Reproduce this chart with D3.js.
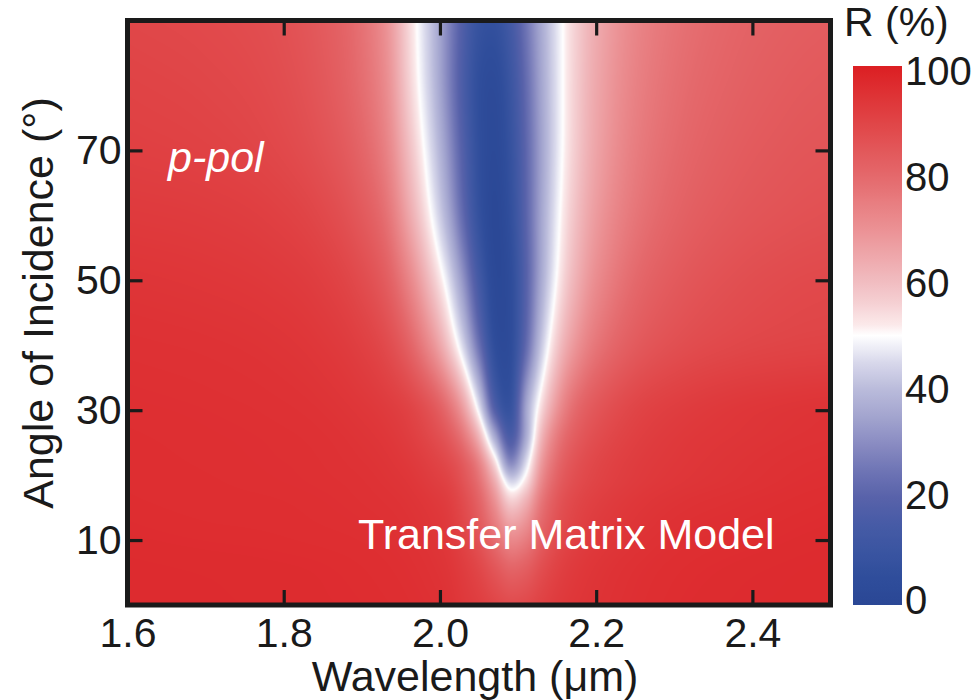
<!DOCTYPE html>
<html>
<head>
<meta charset="utf-8">
<script src="https://cdn.jsdelivr.net/npm/d3@7"></script>
<style>
  html, body { margin: 0; padding: 0; background: #ffffff; }
  svg { display: block; font-family: "Liberation Sans", Arial, Helvetica, sans-serif; }
</style>
</head>
<body>
<svg id="chart" width="974" height="700"></svg>
<script>
// Wavelength sample points (μm)
const wavelengths = [1.60, 1.70, 1.78, 1.84, 1.89, 1.93, 1.96, 1.99, 2.01, 2.03, 2.05, 2.07,
                     2.09, 2.11, 2.13, 2.15, 2.17, 2.20, 2.25, 2.31, 2.38, 2.45, 2.50];

// Angle of incidence of each row (degrees)
const angles = [0, 6, 12, 16, 19, 22, 26, 31, 40, 50, 60, 70, 80, 90];

// Reflectance R (%), p-polarised, transfer-matrix model: one row per angle
const reflectance = [
  [96.5, 96.5, 96.4, 96.3, 96.2, 96.0, 95.7, 95.2, 94.6, 93.0, 91.6, 89.6, 88.1, 88.7, 90.6, 92.4, 93.5, 94.5, 95.5, 96.2, 96.5, 96.6, 96.7],
  [96.5, 96.4, 96.3, 96.2, 96.0, 95.7, 95.3, 94.6, 93.7, 91.6, 88.6, 84.2, 80.2, 81.8, 86.6, 90.1, 92.2, 93.8, 95.1, 95.9, 96.3, 96.5, 96.6],
  [96.2, 96.0, 95.9, 95.7, 95.5, 95.2, 94.7, 93.8, 92.5, 89.0, 83.9, 75.8, 67.4, 70.9, 80.3, 86.4, 89.7, 92.2, 94.0, 95.2, 95.7, 96.1, 96.3],
  [96.0, 95.8, 95.7, 95.5, 95.2, 94.8, 94.2, 93.0, 91.5, 87.5, 81.1, 69.9, 56.6, 62.3, 76.2, 84.3, 88.3, 91.0, 93.2, 94.5, 95.2, 95.7, 96.0],
  [95.9, 95.7, 95.5, 95.3, 95.0, 94.4, 93.6, 91.8, 90.0, 85.5, 77.8, 63.5, 44.9, 53.2, 71.8, 81.8, 86.6, 89.8, 92.3, 93.7, 94.6, 95.3, 95.6],
  [95.8, 95.6, 95.4, 95.2, 94.7, 94.0, 92.8, 90.5, 88.0, 83.0, 73.1, 53.8, 29.2, 45.0, 67.5, 79.2, 85.0, 88.9, 91.8, 93.3, 94.3, 95.0, 95.3],
  [95.7, 95.5, 95.3, 95.0, 94.3, 93.3, 91.5, 88.0, 84.0, 76.0, 61.3, 36.1, 16.0, 36.0, 61.2, 75.0, 82.0, 87.0, 90.8, 92.8, 93.8, 94.5, 94.8],
  [95.5, 95.3, 95.0, 94.5, 93.5, 92.0, 89.5, 84.0, 77.0, 65.0, 44.9, 16.5,  8.1, 34.0, 53.5, 68.0, 77.5, 84.0, 89.0, 91.5, 93.0, 93.8, 94.2],
  [95.0, 94.7, 94.2, 93.3, 91.5, 88.0, 81.5, 70.0, 59.0, 44.2, 24.1,  5.5,  4.4, 21.9, 42.3, 57.5, 67.5, 76.4, 83.4, 87.0, 88.8, 89.7, 90.0],
  [94.0, 93.5, 92.8, 91.5, 88.5, 83.0, 73.0, 58.3, 46.8, 31.4, 13.9,  2.0,  4.4, 19.0, 36.4, 50.6, 60.9, 70.9, 79.5, 84.1, 86.6, 87.9, 88.4],
  [92.5, 92.0, 91.0, 89.0, 85.0, 78.0, 65.0, 49.3, 36.8, 21.7,  7.6,  1.0,  6.4, 20.1, 35.3, 48.0, 57.7, 67.5, 76.4, 81.6, 84.4, 85.8, 86.4],
  [91.0, 90.3, 89.0, 86.5, 82.0, 74.0, 60.0, 44.4, 32.1, 18.1,  6.2,  2.1,  8.1, 20.8, 34.6, 46.5, 55.7, 65.4, 74.6, 79.9, 82.9, 84.5, 85.1],
  [90.0, 89.2, 87.8, 85.0, 80.0, 71.5, 56.5, 41.3, 29.0, 15.9,  5.7,  3.3, 10.1, 22.3, 35.3, 46.4, 55.2, 64.5, 73.4, 78.7, 81.7, 83.4, 84.1],
  [89.0, 88.2, 86.8, 84.0, 79.0, 70.0, 55.0, 40.4, 29.0, 17.3,  8.9,  7.4, 13.8, 24.8, 36.5, 46.7, 54.9, 63.7, 72.4, 77.6, 80.7, 82.3, 83.0]
];

const xTicks = [1.6, 1.8, 2.0, 2.2, 2.4];
const yTicks = [10, 30, 50, 70];
const colorbarTicks = [0, 20, 40, 60, 80, 100];

// Diverging blue-white-red colour map for R (%)
const colorStops = [
  [0, "#2a4795"], [5, "#2f4d9b"], [10, "#3a55a1"], [15, "#475ba6"], [20, "#5862aa"],
  [25, "#6f75b5"], [30, "#8a8cc2"], [35, "#a3a5cf"], [40, "#babbdb"], [45, "#d8d8eb"],
  [50, "#ffffff"], [52, "#fbe9ea"], [56, "#f5d0d3"], [60, "#f1bcc0"], [70, "#eb9093"],
  [80, "#e4676a"], [90, "#e04345"], [95, "#de3134"], [100, "#dc1e22"]
];

const svg = d3.select("#chart");
const ink = "#1a1a1a";
const tickFont = 41;
const titleFont = 43;

const plot = { left: 127.5, right: 830.5, top: 20.5, bottom: 605 };
const x = d3.scaleLinear().domain([1.6, 2.5]).range([plot.left, plot.right]);
const y = d3.scaleLinear().domain([0, 90]).range([plot.bottom, plot.top]);
const color = d3.scaleLinear()
  .domain(colorStops.map(d => d[0]))
  .range(colorStops.map(d => d[1]))
  .interpolate(d3.interpolateRgb)
  .clamp(true);

// Cubic Hermite interpolation with centred slopes on a non-uniform grid
function hermite(xs, ys, xv) {
  const n = xs.length;
  if (xv <= xs[0]) return ys[0];
  if (xv >= xs[n - 1]) return ys[n - 1];
  let i = d3.bisectRight(xs, xv) - 1;
  if (i > n - 2) i = n - 2;
  const slope = k => k === 0 ? (ys[1] - ys[0]) / (xs[1] - xs[0])
    : k === n - 1 ? (ys[n - 1] - ys[n - 2]) / (xs[n - 1] - xs[n - 2])
    : (ys[k + 1] - ys[k - 1]) / (xs[k + 1] - xs[k - 1]);
  const h = xs[i + 1] - xs[i], t = (xv - xs[i]) / h;
  const t2 = t * t, t3 = t2 * t;
  return (2 * t3 - 3 * t2 + 1) * ys[i] + (t3 - 2 * t2 + t) * slope(i) * h
       + (-2 * t3 + 3 * t2) * ys[i + 1] + (t3 - t2) * slope(i + 1) * h;
}

// Rasterise the reflectance map into the plot area
const pw = Math.round(plot.right - plot.left);
const ph = Math.round(plot.bottom - plot.top);
const canvas = document.createElement("canvas");
canvas.width = pw; canvas.height = ph;
const ctx = canvas.getContext("2d");
const img = ctx.createImageData(pw, ph);

const lut = d3.range(1001).map(i => d3.rgb(color(i / 10)));
const colLambda = d3.range(pw).map(px => x.invert(plot.left + (px + 0.5) * (plot.right - plot.left) / pw));
const rowsAtPx = reflectance.map(row => colLambda.map(l => hermite(wavelengths, row, l)));

for (let px = 0; px < pw; px++) {
  const column = rowsAtPx.map(r => r[px]);
  for (let py = 0; py < ph; py++) {
    const theta = y.invert(plot.top + (py + 0.5) * (plot.bottom - plot.top) / ph);
    let v = hermite(angles, column, theta);
    v = Math.max(0, Math.min(100, v));
    const c = lut[Math.round(v * 10)];
    const k = (py * pw + px) * 4;
    img.data[k] = c.r; img.data[k + 1] = c.g; img.data[k + 2] = c.b; img.data[k + 3] = 255;
  }
}
ctx.putImageData(img, 0, 0);

svg.append("image")
  .attr("x", plot.left).attr("y", plot.top)
  .attr("width", plot.right - plot.left).attr("height", plot.bottom - plot.top)
  .attr("preserveAspectRatio", "none")
  .attr("href", canvas.toDataURL());

// In-plot annotations
svg.append("text")
  .attr("x", 168).attr("y", 172)
  .attr("fill", "#ffffff").attr("font-size", titleFont).attr("font-style", "italic")
  .text("p-pol");
svg.append("text")
  .attr("x", 358).attr("y", 549)
  .attr("fill", "#ffffff").attr("font-size", titleFont)
  .text("Transfer Matrix Model");

// Axes with inward ticks on all four sides
const tickLen = 15;
function styleAxis(g) {
  g.select(".domain").remove();
  g.selectAll(".tick line").attr("stroke", ink).attr("stroke-width", 3.2);
  g.selectAll(".tick text").attr("fill", ink).attr("font-size", tickFont)
    .attr("font-family", "\"Liberation Sans\", Arial, sans-serif");
}
svg.append("g").attr("transform", `translate(0,${plot.bottom})`)
  .call(d3.axisBottom(x).tickValues(xTicks).tickFormat(d3.format(".1f")).tickSize(-tickLen).tickPadding(13))
  .call(styleAxis);
svg.append("g").attr("transform", `translate(0,${plot.top})`)
  .call(d3.axisTop(x).tickValues(xTicks.slice(1)).tickFormat("").tickSize(-tickLen))
  .call(styleAxis);
svg.append("g").attr("transform", `translate(${plot.left},0)`)
  .call(d3.axisLeft(y).tickValues(yTicks).tickSize(-tickLen).tickPadding(6))
  .call(styleAxis);
svg.append("g").attr("transform", `translate(${plot.right},0)`)
  .call(d3.axisRight(y).tickValues(yTicks).tickFormat("").tickSize(-tickLen))
  .call(styleAxis);

// Frame
svg.append("rect")
  .attr("x", plot.left).attr("y", plot.top)
  .attr("width", plot.right - plot.left).attr("height", plot.bottom - plot.top)
  .attr("fill", "none").attr("stroke", ink).attr("stroke-width", 5);

// Axis titles
svg.append("text")
  .attr("x", 475).attr("y", 691).attr("text-anchor", "middle")
  .attr("fill", ink).attr("font-size", titleFont)
  .text("Wavelength (μm)");
svg.append("text")
  .attr("transform", "translate(53,303) rotate(-90)").attr("text-anchor", "middle")
  .attr("fill", ink).attr("font-size", titleFont)
  .text("Angle of Incidence (°)");

// Colour bar
const cb = { x: 853, width: 49, top: 66, bottom: 605 };
const cbScale = d3.scaleLinear().domain([0, 100]).range([cb.bottom, cb.top]);
const cbLabelScale = d3.scaleLinear().domain([0, 100]).range([600, 71]);
const grad = svg.append("defs").append("linearGradient")
  .attr("id", "rgrad").attr("x1", 0).attr("y1", 1).attr("x2", 0).attr("y2", 0);
grad.selectAll("stop").data(d3.range(0, 101, 1)).join("stop")
  .attr("offset", d => d / 100)
  .attr("stop-color", d => color(d));
svg.append("rect")
  .attr("x", cb.x).attr("y", cbScale(100))
  .attr("width", cb.width).attr("height", cbScale(0) - cbScale(100))
  .attr("fill", "url(#rgrad)");
svg.append("g").selectAll("text").data(colorbarTicks).join("text")
  .attr("x", 905).attr("y", d => cbLabelScale(d)).attr("dy", "0.36em")
  .attr("fill", ink).attr("font-size", 40)
  .text(d => d);
svg.append("text")
  .attr("x", 844).attr("y", 36)
  .attr("fill", ink).attr("font-size", 41)
  .text("R (%)");
</script>
</body>
</html>
